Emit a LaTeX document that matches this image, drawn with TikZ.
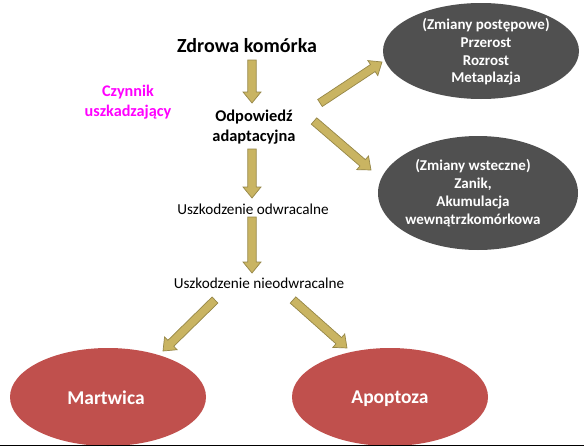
\documentclass[tikz,border=0pt]{standalone}
\usepackage{fontspec}
\setmainfont{Carlito}
\usetikzlibrary{calc,shapes.geometric}
\definecolor{arrowfill}{HTML}{C9B462}
\definecolor{arrowline}{HTML}{968748}
\definecolor{darkell}{HTML}{505050}
\definecolor{redell}{HTML}{C0504D}
\definecolor{magtext}{HTML}{FF00FF}
\definecolor{baseline}{HTML}{C8C8C8}
\tikzset{
  blockarrowstyle/.style={fill=arrowfill, draw=arrowline, line width=0.7pt, line join=miter},
  darkellipse/.style={ellipse, fill=darkell, draw=none, inner sep=0pt},
  redellipse/.style={ellipse, fill=redell, draw=none, inner sep=0pt},
  elltext/.style={text=white, align=center, font=\bfseries\fontsize{15}{17.8}\selectfont, inner sep=0pt},
  bigtext/.style={text=white, font=\bfseries\fontsize{19.5}{23}\selectfont, inner sep=0pt},
  steptext/.style={text=black, align=center, inner sep=0pt},
}
\newcommand\blockarrow[2]{%
  \path let \p1=($(#2)-(#1)$) in \pgfextra{%
    \pgfmathsetmacro\baAng{atan2(\y1,\x1)}\global\let\baAng\baAng
    \pgfmathsetlengthmacro\baL{veclen(\x1,\y1)}\global\let\baL\baL
    \pgfmathsetlengthmacro\baH{veclen(\x1,\y1)-11pt}\global\let\baH\baH};
  \begin{scope}[shift={(#1)},rotate=\baAng]
  \draw[blockarrowstyle] (0pt,4.2pt) -- (\baH,4.2pt) -- (\baH,9pt) -- (\baL,0pt)
     -- (\baH,-9pt) -- (\baH,-4.2pt) -- (0pt,-4.2pt) -- cycle;
  \end{scope}}
\begin{document}
\begin{tikzpicture}[x=1pt,y=-1pt]
\useasboundingbox[fill=white] (0,0) rectangle (584,447);

% ellipses
\node[darkellipse, minimum width=196pt, minimum height=96pt] (prog) at (481,51) {};
\node[elltext] (progtxt) at (486,52) {(Zmiany postępowe)\\Przerost\\Rozrost\\Metaplazja};
\node[darkellipse, minimum width=200pt, minimum height=114pt] (regr) at (478,193) {};
\node[elltext] (regrtxt) at (473,193) {(Zmiany wsteczne)\\Zanik,\\Akumulacja\\wewnątrzkomórkowa};
\node[redellipse, minimum width=196pt, minimum height=98pt] (mart) at (108,397) {};
\node[bigtext] (marttxt) at (106,398) {Martwica};
\node[redellipse, minimum width=196pt, minimum height=98pt] (apop) at (390,397) {};
\node[bigtext] (apoptxt) at (390,399) {Apoptoza};

% texts
\node[steptext, font=\bfseries\fontsize{20}{22}\selectfont] (zdrowa) at (247,46) {Zdrowa komórka};
\node[steptext, text=magtext, font=\bfseries\fontsize{16.2}{20}\selectfont] (czynnik) at (128,102) {Czynnik\\uszkadzający};
\node[steptext, font=\bfseries\fontsize{16.4}{20}\selectfont] (odp) at (254,127) {Odpowiedź\\adaptacyjna};
\node[steptext, font=\fontsize{15.2}{18}\selectfont] (odwr) at (253,209) {Uszkodzenie odwracalne};
\node[steptext, font=\fontsize{15.2}{18}\selectfont] (nieodwr) at (259,283) {Uszkodzenie nieodwracalne};

% arrow end points
\coordinate (a1s) at (252,60);  \coordinate (a1e) at (252,103);
\coordinate (a2s) at (252,149); \coordinate (a2e) at (252,198);
\coordinate (a3s) at (252,217); \coordinate (a3e) at (252,273);
\coordinate (a4s) at (320,103); \coordinate (a4e) at (382,62);
\coordinate (a5s) at (314,121); \coordinate (a5e) at (371,170);
\coordinate (a6s) at (215,300); \coordinate (a6e) at (163,351);
\coordinate (a7s) at (293,300); \coordinate (a7e) at (347,348);

\blockarrow{a1s}{a1e}
\blockarrow{a2s}{a2e}
\blockarrow{a3s}{a3e}
\blockarrow{a4s}{a4e}
\blockarrow{a5s}{a5e}
\blockarrow{a6s}{a6e}
\blockarrow{a7s}{a7e}

\coordinate (bl) at (0,445.5);
\coordinate (br) at (584,445.5);
\draw[baseline, line width=1pt] (bl) -- (br);
\end{tikzpicture}
\end{document}
